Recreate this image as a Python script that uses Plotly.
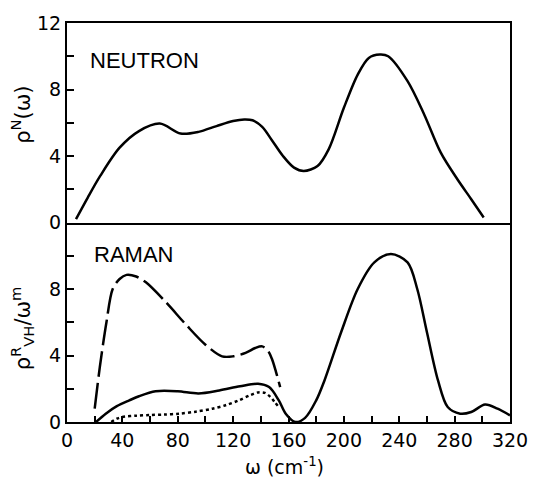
import plotly.graph_objects as go
from plotly.subplots import make_subplots

# ---- data ----
neutron_w = [6.5, 15, 24, 38, 52, 67, 82, 95, 108, 120, 128, 134, 141, 148, 156, 164, 171, 181, 189, 200, 210, 218, 226, 232, 246, 258, 270, 282, 292, 301]
neutron_v = [0.2, 1.5, 2.8, 4.5, 5.5, 5.95, 5.35, 5.45, 5.8, 6.1, 6.2, 6.15, 5.75, 4.95, 4.0, 3.3, 3.1, 3.4, 4.4, 6.9, 8.9, 9.9, 10.1, 10.0, 8.5, 6.5, 4.2, 2.6, 1.4, 0.3]

raman_solid_w = [21, 28, 36, 45, 52, 64, 80, 95, 110, 125, 138, 146, 153, 158, 165, 172, 180, 186, 198, 210, 222, 234, 246, 253, 260, 268, 275, 284, 292, 302, 311, 320]
raman_solid_v = [0, 0.5, 0.95, 1.3, 1.55, 1.85, 1.85, 1.72, 1.9, 2.15, 2.3, 2.1, 1.3, 0.5, 0.0, 0.25, 1.3, 2.5, 5.4, 8.0, 9.6, 10.1, 9.6, 8.0, 5.4, 2.5, 0.9, 0.5, 0.6, 1.05, 0.8, 0.4]

raman_dash_w = [20, 23.7, 28.5, 33, 38, 43, 50, 57, 71.5, 86, 100, 112, 120, 129, 136, 141, 145, 148, 151, 154]
raman_dash_v = [0.8, 3.3, 6.0, 8.0, 8.6, 8.85, 8.75, 8.4, 7.2, 5.85, 4.65, 3.95, 3.95, 4.16, 4.45, 4.55, 4.3, 3.8, 3.0, 2.1]

raman_dot_w = [32, 36, 40, 50, 60, 70, 81, 93, 105, 115, 124, 132, 138, 143, 147, 150, 153]
raman_dot_v = [0.0, 0.2, 0.3, 0.38, 0.42, 0.45, 0.5, 0.62, 0.8, 1.02, 1.3, 1.6, 1.78, 1.75, 1.5, 1.2, 0.9]

x_tickvals = [0, 40, 80, 120, 160, 200, 240, 280, 320]
top_y_tickvals = [0, 4, 8, 12]
bot_y_tickvals = [0, 4, 8]

# ---- figure ----
fig = make_subplots(rows=2, cols=1, shared_xaxes=False, vertical_spacing=0)

line_w = 2.5
fig.add_trace(go.Scatter(x=neutron_w, y=neutron_v, mode="lines",
                         line=dict(color="black", width=line_w, shape="spline", smoothing=0.9),
                         showlegend=False), row=1, col=1)
fig.add_trace(go.Scatter(x=raman_solid_w, y=raman_solid_v, mode="lines",
                         line=dict(color="black", width=line_w, shape="spline", smoothing=0.9),
                         showlegend=False), row=2, col=1)
fig.add_trace(go.Scatter(x=raman_dash_w, y=raman_dash_v, mode="lines",
                         line=dict(color="black", width=line_w, shape="spline", smoothing=0.9,
                                   dash="26px,6px"),
                         showlegend=False), row=2, col=1)
fig.add_trace(go.Scatter(x=raman_dot_w, y=raman_dot_v, mode="lines",
                         line=dict(color="black", width=2.5, shape="spline", smoothing=0.9,
                                   dash="dot"),
                         showlegend=False), row=2, col=1)

tick_font = dict(family="DejaVu Sans", size=19, color="black")
axis_common = dict(showline=True, linecolor="black", linewidth=2,
                   showgrid=False, zeroline=False)
y_minor = dict(ticks="inside", dtick=2, tick0=0, ticklen=7, tickwidth=1.5,
               tickcolor="black", showgrid=False)
x_minor = dict(ticks="inside", dtick=20, tick0=0, ticklen=6, tickwidth=1.5,
               tickcolor="black", showgrid=False)

fig.update_xaxes(**axis_common, mirror=True, range=[0, 320], ticks="", showticklabels=False,
                 row=1, col=1)
fig.update_xaxes(**axis_common, mirror=False, range=[0, 320], ticks="inside", ticklen=6,
                 tickwidth=1.5, tickcolor="black", tickmode="array", tickvals=x_tickvals,
                 minor=x_minor, tickfont=tick_font, row=2, col=1)
fig.update_yaxes(**axis_common, mirror=True, range=[0, 12], ticks="inside", ticklen=7,
                 tickwidth=1.5, tickcolor="black", tickmode="array", tickvals=top_y_tickvals,
                 minor=y_minor, tickfont=tick_font, domain=[0.5, 1], row=1, col=1)
fig.update_yaxes(**axis_common, mirror=True, range=[0, 12], ticks="inside", ticklen=7,
                 tickwidth=1.5, tickcolor="black", tickmode="array", tickvals=bot_y_tickvals,
                 minor=y_minor, tickfont=tick_font, domain=[0, 0.5], row=2, col=1)

text_font = dict(family="Liberation Sans, Arial", size=22, color="black")
title_font = dict(family="DejaVu Sans", size=21, color="black")
xtitle_font = dict(family="DejaVu Sans", size=19, color="black")

fig.update_layout(
    width=540, height=483,
    margin=dict(l=67, r=28, t=14, b=61),
    paper_bgcolor="white", plot_bgcolor="white",
    annotations=[
        dict(text="NEUTRON", x=15, y=9.76, xref="x", yref="y", xanchor="left",
             yanchor="middle", showarrow=False, font=text_font),
        dict(text="RAMAN", x=18, y=10.1, xref="x2", yref="y2", xanchor="left",
             yanchor="middle", showarrow=False, font=text_font),
        dict(text="ρ<sup>N</sup>(ω)", x=0, y=0.77, xref="paper", yref="paper",
             xshift=-46, showarrow=False, textangle=-90, font=title_font,
             xanchor="center", yanchor="middle"),
        dict(text="ρ<sup>R</sup><sub>VH</sub>/ω<sup>m</sup>", x=0, y=0.235, xref="paper",
             yref="paper", xshift=-45, showarrow=False, textangle=-90, font=title_font,
             xanchor="center", yanchor="middle"),
        dict(text="ω (cm<sup>-1</sup>)", x=0.49, y=-0.11, xref="paper", yref="paper",
             showarrow=False, font=xtitle_font, xanchor="center", yanchor="middle"),
    ],
)

fig.write_html("out.html")
